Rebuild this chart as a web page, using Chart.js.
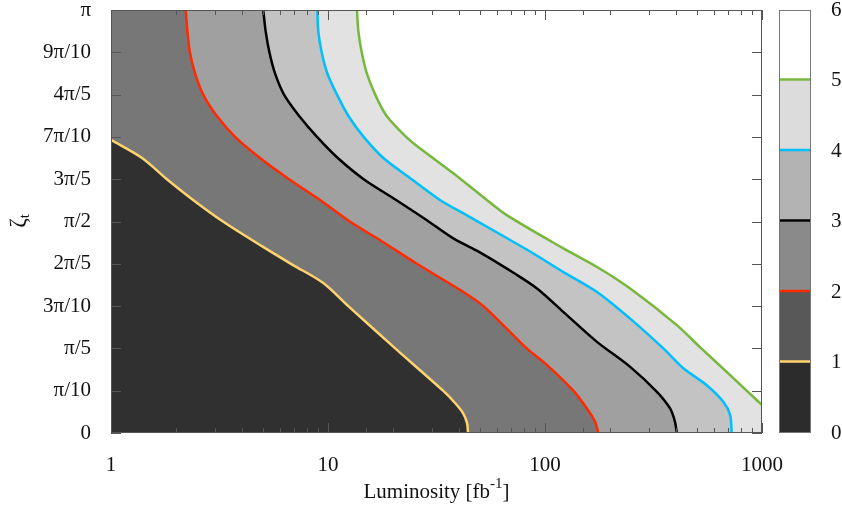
<!DOCTYPE html>
<html lang="en">
<head>
<meta charset="UTF-8">
<title>Contour</title>
<script src="https://cdn.jsdelivr.net/npm/chart.js@4"></script>
<style>
  body { margin: 0; background: #fff; }
  #wrap { position: relative; width: 842px; height: 511px; }
  #main { position: absolute; left: 0; top: 0; }
  #bar { position: absolute; left: 770px; top: 0; }
</style>
</head>
<body>
<div id="wrap">
  <canvas id="main" width="842" height="511"></canvas>
  <canvas id="bar" width="72" height="511"></canvas>
</div>
<script>
// contour levels and colours
const levels = [1, 2, 3, 4, 5];
const lineColors = ['#ffd36e', '#ff2a00', '#000000', '#00bfff', '#76b83c'];
const fillColors = ['#303030', '#777777', '#a0a0a0', '#c3c3c3', '#e2e2e2'];
const barTicks = [0, 1, 2, 3, 4, 5, 6];
const barColors = ['#2c2c2c', '#585858', '#8a8a8a', '#b3b3b3', '#dcdcdc', '#ffffff'];

// axis labels
const xTicksMajor = [1, 10, 100, 1000];
const yTickLabels = ['0', 'π/10', 'π/5', '3π/10', '2π/5', 'π/2', '3π/5', '7π/10', '4π/5', '9π/10', 'π'];

// contour lines: luminosity [fb^-1] and zeta in units of pi
const lumi1 = [1, 1.39, 1.81, 2.39, 3.28, 5.02, 6.90, 9.48, 12.4, 20.4, 33.9, 38.5, 41.9, 43.7, 44.2];
const zeta1 = [0.693, 0.650, 0.600, 0.551, 0.500, 0.440, 0.397, 0.355, 0.300, 0.200, 0.100, 0.071, 0.047, 0.024, 0];

const lumi2 = [2.21, 2.25, 2.31, 2.44, 2.66, 3.07, 3.73, 4.86, 6.61, 9.19, 12.6, 17.6, 25.7, 41.9, 52.0, 71.2, 82.4, 102, 135, 156, 170, 176];
const zeta2 = [1, 0.950, 0.900, 0.850, 0.800, 0.750, 0.700, 0.650, 0.600, 0.551, 0.500, 0.454, 0.400, 0.334, 0.300, 0.232, 0.200, 0.161, 0.100, 0.058, 0.027, 0];

const lumi3 = [5.03, 5.16, 5.37, 5.70, 6.27, 7.35, 8.90, 11.1, 14.6, 20.6, 28.0, 37.8, 50.1, 74.1, 91.6, 121, 173, 246, 327, 377, 397, 405];
const zeta3 = [1, 0.950, 0.900, 0.850, 0.800, 0.750, 0.700, 0.650, 0.600, 0.551, 0.506, 0.460, 0.427, 0.374, 0.342, 0.287, 0.216, 0.157, 0.098, 0.058, 0.027, 0];

const lumi4 = [8.93, 9.02, 9.35, 9.93, 11.0, 12.4, 14.6, 18.0, 24.3, 32.8, 43.5, 85.3, 121, 173, 246, 351, 434, 556, 663, 713, 725];
const zeta4 = [1, 0.950, 0.900, 0.850, 0.800, 0.750, 0.700, 0.650, 0.600, 0.551, 0.515, 0.429, 0.381, 0.334, 0.271, 0.200, 0.153, 0.113, 0.074, 0.043, 0];

const lumi5 = [13.6, 13.8, 14.3, 15.1, 16.5, 18.6, 22.9, 26.5, 37.8, 53.9, 66.6, 121, 173, 246, 405, 525, 713, 1000];
const zeta5 = [1, 0.950, 0.900, 0.850, 0.800, 0.750, 0.700, 0.673, 0.614, 0.551, 0.515, 0.437, 0.393, 0.342, 0.255, 0.200, 0.137, 0.066];

const lumiSets = [lumi1, lumi2, lumi3, lumi4, lumi5];
const zetaSets = [zeta1, zeta2, zeta3, zeta4, zeta5];

const FONT = '"Liberation Serif", "Times New Roman", serif';
Chart.defaults.font.family = FONT;
Chart.defaults.font.size = 21;
Chart.defaults.color = '#111';

const datasets = [];
lumiSets.forEach((lumi, i) => {
  const pts = lumi.map((v, j) => ({ x: v, y: zetaSets[i][j] }));
  // region below the line (filled down to zero), closed along the top-left
  const area = pts[0].y < 1 ? pts : [{ x: 1, y: 1 }].concat(pts);
  datasets.push({
    data: area, fill: 'start', backgroundColor: fillColors[i],
    borderColor: 'rgba(0,0,0,0)', borderWidth: 0, pointRadius: 0, tension: 0, order: i + 1
  });
  datasets.push({
    data: pts, fill: false, borderColor: lineColors[i], borderWidth: 2.5,
    pointRadius: 0, tension: 0.3, order: 0
  });
});

const frame = {
  id: 'frame',
  afterDatasetsDraw(chart) {
    const { ctx, chartArea: a, scales: { x, y } } = chart;
    ctx.save();
    ctx.strokeStyle = '#555';
    ctx.lineWidth = 1;
    ctx.beginPath();
    x.ticks.forEach(t => {
      const px = Math.round(x.getPixelForValue(t.value)) + 0.5;
      const len = xTicksMajor.includes(t.value) ? 10 : 5;
      ctx.moveTo(px, a.bottom); ctx.lineTo(px, a.bottom - len);
      ctx.moveTo(px, a.top); ctx.lineTo(px, a.top + len);
    });
    y.ticks.forEach(t => {
      const py = Math.round(y.getPixelForValue(t.value)) + 0.5;
      ctx.moveTo(a.left, py); ctx.lineTo(a.left + 10, py);
      ctx.moveTo(a.right, py); ctx.lineTo(a.right - 10, py);
    });
    ctx.stroke();
    ctx.strokeRect(a.left + 0.5, a.top + 0.5, a.width - 1, a.height - 1);

    // x title with superscript
    ctx.fillStyle = '#111';
    ctx.textBaseline = 'alphabetic';
    ctx.textAlign = 'left';
    const t1 = 'Luminosity [fb', t2 = '-1', t3 = ']';
    ctx.font = '21px ' + FONT;
    const w1 = ctx.measureText(t1).width, w3 = ctx.measureText(t3).width;
    ctx.font = '15px ' + FONT;
    const w2 = ctx.measureText(t2).width;
    const sx = (a.left + a.right) / 2 - (w1 + w2 + w3) / 2;
    ctx.font = '21px ' + FONT;
    ctx.fillText(t1, sx, 498);
    ctx.font = '15px ' + FONT;
    ctx.fillText(t2, sx + w1, 488);
    ctx.font = '21px ' + FONT;
    ctx.fillText(t3, sx + w1 + w2, 498);

    // y title: zeta with subscript t
    ctx.translate(19, 221);
    ctx.rotate(-Math.PI / 2);
    ctx.textBaseline = 'middle';
    ctx.font = '23px ' + FONT;
    const wz = ctx.measureText('ζ').width;
    ctx.font = '15px ' + FONT;
    const wt = ctx.measureText('t').width;
    const u = -(wz + wt) / 2;
    ctx.font = '23px ' + FONT;
    ctx.fillText('ζ', u, 0);
    ctx.font = '15px ' + FONT;
    ctx.fillText('t', u + wz, 6);
    ctx.restore();
  }
};

new Chart(document.getElementById('main'), {
  type: 'line',
  data: { datasets: datasets },
  options: {
    responsive: false,
    animation: false,
    layout: { padding: { top: 10, right: 80, left: 0, bottom: 0 } },
    plugins: { legend: { display: false }, tooltip: { enabled: false } },
    scales: {
      x: {
        type: 'logarithmic', min: 1, max: 1000,
        grid: { display: false, drawTicks: false },
        border: { display: false },
        ticks: {
          autoSkip: false, maxRotation: 0, padding: 20,
          callback: v => xTicksMajor.includes(v) ? String(v) : ''
        },
        afterFit(s) { s.height = 78; s.paddingLeft = 0; s.paddingRight = 0; }
      },
      y: {
        type: 'linear', min: 0, max: 1,
        grid: { display: false, drawTicks: false },
        border: { display: false },
        ticks: { stepSize: 0.1, padding: 20, callback: (v, i) => yTickLabels[i] },
        afterFit(s) { s.width = 111; s.paddingTop = 0; s.paddingBottom = 0; }
      }
    }
  },
  plugins: [frame]
});

// colour bar
const barFrame = {
  id: 'barFrame',
  afterDatasetsDraw(chart) {
    const { ctx, chartArea: a, scales: { y } } = chart;
    ctx.save();
    levels.forEach((lv, i) => {
      const py = y.getPixelForValue(lv) - 1;
      ctx.strokeStyle = lineColors[i];
      ctx.lineWidth = 2.5;
      ctx.beginPath();
      ctx.moveTo(a.left, py); ctx.lineTo(a.right, py);
      ctx.stroke();
    });
    ctx.strokeStyle = '#777';
    ctx.lineWidth = 1;
    ctx.strokeRect(a.left + 0.5, a.top + 0.5, a.width - 1, a.height - 1);
    ctx.restore();
  }
};

new Chart(document.getElementById('bar'), {
  type: 'bar',
  data: {
    labels: [''],
    datasets: barColors.map((c, i) => ({
      data: [[barTicks[i], barTicks[i + 1]]],
      backgroundColor: c, borderWidth: 0,
      barPercentage: 1, categoryPercentage: 1, grouped: false
    }))
  },
  options: {
    responsive: false,
    animation: false,
    layout: { padding: { top: 10, right: 0, left: 9, bottom: 78 } },
    plugins: { legend: { display: false }, tooltip: { enabled: false } },
    scales: {
      x: { display: false },
      y: {
        position: 'right', min: 0, max: 6,
        grid: { display: false, drawTicks: false },
        border: { display: false },
        ticks: { stepSize: 1, padding: 20 },
        afterFit(s) { s.width = 31; s.paddingTop = 0; s.paddingBottom = 0; }
      }
    }
  },
  plugins: [barFrame]
});
</script>
</body>
</html>
